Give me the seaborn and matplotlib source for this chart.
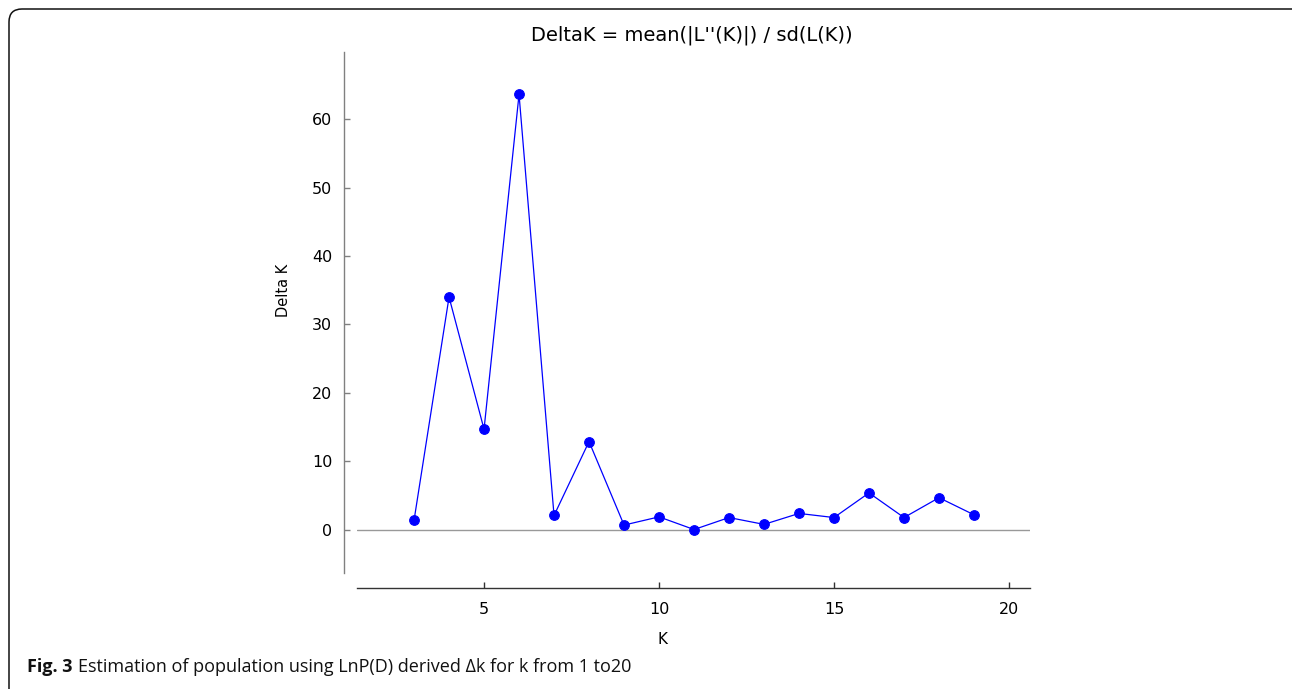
import matplotlib
matplotlib.use("Agg")
import matplotlib.pyplot as plt
from matplotlib.patches import FancyBboxPatch
from matplotlib.transforms import IdentityTransform
import seaborn as sns
import pandas as pd

k_values = [3, 4, 5, 6, 7, 8, 9, 10, 11, 12, 13, 14, 15, 16, 17, 18, 19]
delta_k = [1.4, 34.0, 14.7, 63.6, 2.1, 12.9, 0.7, 1.9, 0.05, 1.8, 0.8, 2.4, 1.8, 5.4, 1.8, 4.7, 2.2]
x_ticks = [5, 10, 15, 20]
y_ticks = [0, 10, 20, 30, 40, 50, 60]

df = pd.DataFrame({"K": k_values, "DeltaK": delta_k})

sns.set_theme(style="ticks")
plt.rcParams["font.family"] = ["DejaVu Sans"]
plt.rcParams["text.color"] = "#000000"
plt.rcParams["axes.labelcolor"] = "#000000"

W, H = 1292, 689
fig = plt.figure(figsize=(W / 100, H / 100), dpi=100)
fig.patch.set_facecolor("white")

# rounded border (top-left corner visible, right/bottom run off the image)
border = FancyBboxPatch((9, -30), W + 30, H - 9 + 30,
                        boxstyle="round,pad=0,rounding_size=13",
                        transform=IdentityTransform(), fill=False,
                        edgecolor="#111111", linewidth=1.1)
fig.patches.append(border)

left, right, top, bottom = 357, 1030, 52, 573
ax = fig.add_axes([left / W, 1 - bottom / H, (right - left) / W, (bottom - top) / H])

ax.axhline(0, color="#999999", linewidth=1.0, zorder=1)
sns.lineplot(data=df, x="K", y="DeltaK", ax=ax, color="#0000ff", linewidth=0.9,
             marker="o", markersize=7, markeredgecolor="#0000ff",
             markerfacecolor="#0000ff", zorder=3)

ax.set_xlim(1.37, 20.6)
ax.set_ylim(-6.3, 69.8)
ax.set_xticks(x_ticks)
ax.set_yticks(y_ticks)

for s in ["top", "right"]:
    ax.spines[s].set_visible(False)
ax.spines["left"].set_position(("outward", 13 * 0.72))
ax.spines["bottom"].set_position(("outward", 15 * 0.72))
ax.spines["left"].set_color("#808080")
ax.spines["bottom"].set_color("#333333")
ax.spines["left"].set_linewidth(1.0)
ax.spines["bottom"].set_linewidth(1.0)
ax.tick_params(axis="both", direction="in", length=4, width=1.0,
               labelsize=11.5, colors="#000000")
ax.tick_params(axis="y", color="#808080", pad=8.5)
ax.tick_params(axis="x", color="#333333", pad=10)

ax.set_xlabel("K", fontsize=11)
ax.set_ylabel("Delta K", fontsize=10.5)
ax.xaxis.set_label_coords((662 - left) / (right - left), -(640 - bottom) / (bottom - top))
ax.yaxis.set_label_coords(-(357 - 283) / (right - left), (bottom - 290) / (bottom - top))
ax.xaxis.label.set_va("center")
ax.yaxis.label.set_va("center")

fig.text(692 / W, 1 - 35 / H, "DeltaK = mean(|L''(K)|) / sd(L(K))",
         ha="center", va="center", fontsize=14)

cap_y = 1 - 667 / H
t1 = fig.text(27 / W, cap_y, "Fig. 3", ha="left", va="center", color="#111111",
              fontsize=13, fontweight="bold", family=["Open Sans", "DejaVu Sans"])
fig.canvas.draw()
bb = t1.get_window_extent()
fig.text((bb.x1 + 6) / W, cap_y,
         "Estimation of population using LnP(D) derived \u0394k for k from 1 to20",
         ha="left", va="center", fontsize=13, color="#111111",
         family=["Open Sans", "DejaVu Sans"])

fig.savefig("out.png", dpi=100, facecolor="white")
